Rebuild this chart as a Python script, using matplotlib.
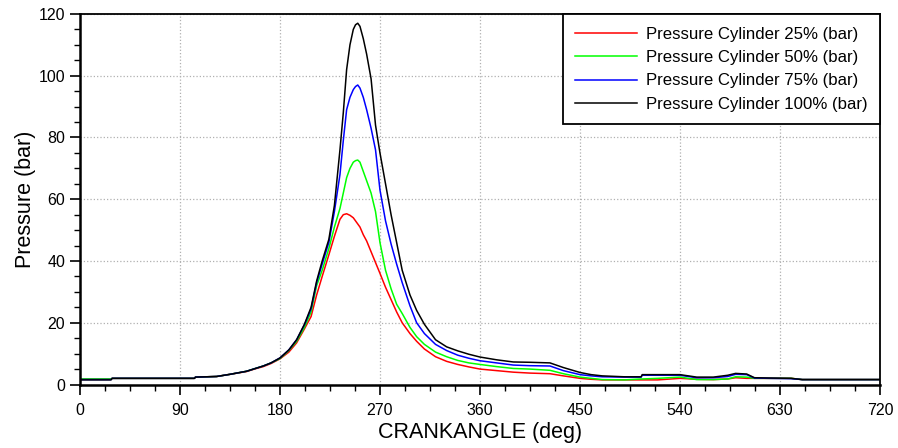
"""
Cylinder pressure vs crank angle
--------------------------------
Pressure traces for four load levels over one 720 deg cycle.
"""

import matplotlib
matplotlib.use("Agg")
import matplotlib.pyplot as plt
from matplotlib.ticker import MultipleLocator

plt.rcParams['font.family'] = ['Liberation Sans', 'DejaVu Sans']

# crank angle (deg), shared by all traces
crank = [0, 28, 29, 103, 104, 123, 135, 150, 157, 165,
         172, 180, 188, 195, 202, 208, 213, 218, 224, 229,
         234, 237, 240, 243, 246, 248, 250, 252, 255, 258,
         262, 266, 270, 275, 280, 285, 290, 297, 303, 310,
         320, 330, 340, 350, 360, 375, 390, 405, 423, 435,
         450, 460, 470, 490, 505, 506, 520, 540, 555, 570,
         583, 590, 600, 607, 620, 640, 650, 720]

# pressure (bar)
p25 = [1.8, 1.8, 2.0, 2.0, 2.4, 2.6, 3.3, 4.2, 5.0, 5.8,
       6.8, 8.3, 10.5, 13.5, 18, 22, 29, 35, 42, 48,
       53.5, 55, 55.3, 54.8, 54, 53, 52, 51, 48.5, 46.5,
       43, 39.5, 36, 31.5, 27.5, 23.5, 20, 16.5, 14, 11.5,
       9, 7.5, 6.5, 5.7, 5.0, 4.5, 4.0, 3.7, 3.5, 2.8,
       2.0, 1.7, 1.5, 1.5, 1.5, 1.5, 1.5, 2.0, 1.7, 1.6,
       1.8, 2.2, 2.0, 2.0, 2.0, 2.0, 1.6, 1.6]

p50 = [1.8, 1.8, 2.0, 2.0, 2.4, 2.6, 3.3, 4.3, 5.1, 6.0,
       7.0, 8.4, 11, 14, 18.5, 23.5, 32, 37, 44, 51,
       57, 62, 67, 70, 72, 72.5, 72.7, 72, 69, 66,
       62, 56, 46, 37, 31, 26, 23, 18.5, 15.5, 13,
       10.5, 9, 7.8, 7.0, 6.5, 5.8, 5.2, 5.0, 4.6, 3.5,
       2.4, 2.0, 1.6, 1.5, 1.8, 1.8, 2.0, 2.4, 1.6, 1.6,
       1.8, 2.5, 2.4, 2.0, 2.0, 2.0, 1.6, 1.6]

p75 = [1.6, 1.6, 2.0, 2.0, 2.4, 2.6, 3.3, 4.3, 5.1, 6.0,
       7.0, 8.6, 11.2, 14.5, 19.3, 24.5, 33, 39, 46, 56,
       68, 79, 89, 93, 95.5, 96.5, 97, 96, 93, 89,
       83, 76, 63, 53, 45.5, 39, 33, 25.5, 20, 16.5,
       13, 11, 9.5, 8.5, 7.7, 7.0, 6.3, 6.1, 6.0, 4.5,
       3.2, 2.8, 2.5, 2.4, 2.4, 3.0, 3.0, 3.0, 2.2, 2.2,
       2.6, 3.3, 3.2, 2.1, 2.0, 1.9, 1.6, 1.6]

p100 = [1.5, 1.5, 2.0, 2.0, 2.4, 2.6, 3.3, 4.3, 5.1, 6.0,
        7.0, 8.6, 11.2, 14.5, 19.5, 25, 33.5, 40, 47, 58,
        76, 88, 102, 110, 115, 116.5, 117, 116, 112, 107,
        99, 84, 75, 65, 55, 46, 37, 29, 24, 19.5,
        14.5, 12.2, 10.9, 9.8, 8.9, 8.0, 7.3, 7.2, 7.0, 5.5,
        3.9, 3.2, 2.8, 2.5, 2.5, 3.2, 3.2, 3.2, 2.4, 2.4,
        3.0, 3.6, 3.4, 2.2, 2.1, 2.0, 1.6, 1.6]

labels = ['Pressure Cylinder 25% (bar)', 'Pressure Cylinder 50% (bar)',
          'Pressure Cylinder 75% (bar)', 'Pressure Cylinder 100% (bar)']
colors = ['#ff0000', '#00ff00', '#0000ff', '#000000']

fig = plt.figure(figsize=(8.98, 4.48), dpi=100)
ax = fig.add_axes([0.089, 0.1417, 0.891, 0.8271])

for p, lab, c in zip([p25, p50, p75, p100], labels, colors):
    ax.plot(crank, p, color=c, lw=1.1, label=lab)

ax.set_xlim(0, 720)
ax.set_ylim(0, 120)
ax.xaxis.set_major_locator(MultipleLocator(90))
ax.xaxis.set_minor_locator(MultipleLocator(22.5))
ax.yaxis.set_major_locator(MultipleLocator(20))
ax.yaxis.set_minor_locator(MultipleLocator(5))
ax.tick_params(which='major', direction='out', length=7, width=1.2, labelsize=11.5)
ax.tick_params(axis='x', which='major', pad=6)
ax.tick_params(which='minor', direction='out', length=4, width=1.0)
ax.grid(True, which='major', color='#b0b0b0', linestyle=':', linewidth=0.9)

for side in ['left', 'bottom']:
    ax.spines[side].set_linewidth(1.8)
for side in ['top', 'right']:
    ax.spines[side].set_linewidth(1.3)

ax.set_xlabel('CRANKANGLE (deg)', fontsize=15.5, labelpad=3)
ax.set_ylabel('Pressure (bar)', fontsize=15.5, labelpad=2)

leg = ax.legend(loc='upper right', bbox_to_anchor=(1, 1), borderaxespad=0,
                fontsize=12.1, fancybox=False, framealpha=1, edgecolor='black',
                handlelength=3.7, handletextpad=0.5, labelspacing=0.5,
                borderpad=0.75)
leg.get_frame().set_linewidth(1.3)

fig.savefig('out.png', dpi=100)
